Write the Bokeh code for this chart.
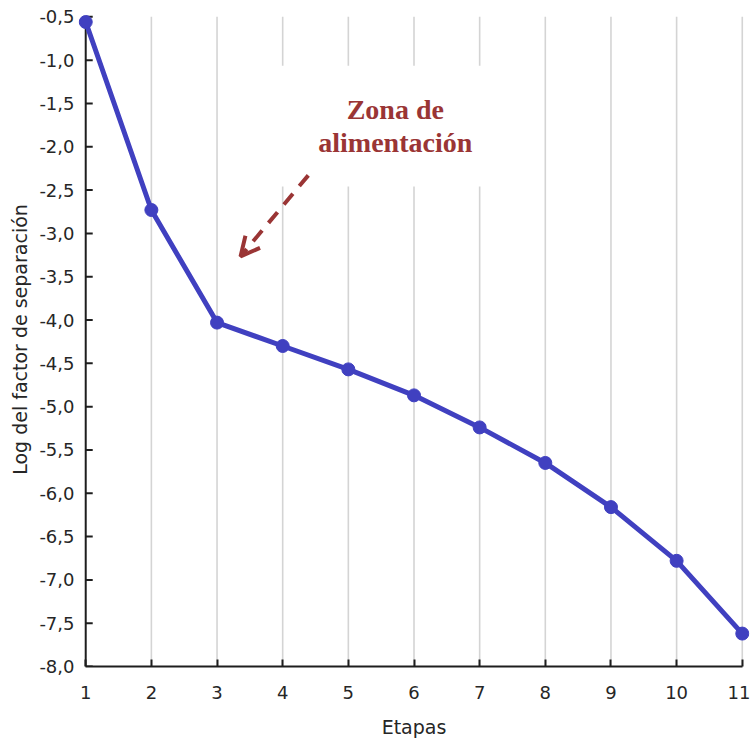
from bokeh.plotting import figure
from bokeh.models import (Range1d, FixedTicker, Label, Arrow, OpenHead, BoxAnnotation)
from bokeh.embed import file_html
from bokeh.resources import INLINE

# ---- data ----
etapas = [1, 2, 3, 4, 5, 6, 7, 8, 9, 10, 11]
log_factor = [-0.56, -2.73, -4.03, -4.30, -4.57, -4.87, -5.24, -5.65, -6.16, -6.78, -7.62]

x_ticks = [1, 2, 3, 4, 5, 6, 7, 8, 9, 10, 11]
y_ticks = [-8.0, -7.5, -7.0, -6.5, -6.0, -5.5, -5.0, -4.5, -4.0, -3.5, -3.0,
           -2.5, -2.0, -1.5, -1.0, -0.5]
y_labels = ["-8,0", "-7,5", "-7,0", "-6,5", "-6,0", "-5,5", "-5,0", "-4,5", "-4,0",
            "-3,5", "-3,0", "-2,5", "-2,0", "-1,5", "-1,0", "-0,5"]

x_title = "Etapas"
y_title = "Log del factor de separación"
annot_lines = ["Zona de", "alimentación"]

LINE_COLOR = "#4040c0"
ANNOT_COLOR = "#9a3535"
AXIS_COLOR = "#1e1e1e"
TEXT_COLOR = "#262626"
FONT = "DejaVu Sans"

p = figure(width=750, height=740,
           x_range=Range1d(0.89, 11.11), y_range=Range1d(y_ticks[0], -0.45),
           output_backend="svg", toolbar_location=None,
           min_border_left=78, min_border_right=1, min_border_top=12,
           min_border_bottom=73)
p.outline_line_color = None
p.xgrid.visible = False
p.ygrid.visible = False
p.background_fill_color = "white"
p.border_fill_color = "white"

# vertical grid lines (from -8 to -0.5)
n = len(x_ticks) - 1
p.segment(x0=x_ticks[1:], y0=[y_ticks[0]] * n, x1=x_ticks[1:], y1=[y_ticks[-1]] * n,
          line_color="#d4d4d4", line_width=1.6, level="underlay")

# white box behind annotation text (breaks grid lines)
p.add_layout(BoxAnnotation(left=3.52, right=7.54, top=-1.065, bottom=-2.46,
                           fill_color="white", fill_alpha=1.0, line_color=None))

# y axis line and inward ticks drawn at x = 1
m = len(y_ticks)
p.segment(x0=[x_ticks[0]], y0=[y_ticks[0]], x1=[x_ticks[0]], y1=[y_ticks[-1]],
          line_color=AXIS_COLOR, line_width=2)
p.ray(x=[x_ticks[0]] * m, y=y_ticks, length=7, length_units="screen", angle=0,
      line_color=AXIS_COLOR, line_width=2)

# data
p.line(etapas, log_factor, line_color=LINE_COLOR, line_width=5)
p.scatter(etapas, log_factor, size=13, fill_color=LINE_COLOR, line_color=LINE_COLOR)

# axes
xa = p.xaxis[0]
xa.ticker = FixedTicker(ticks=x_ticks)
xa.bounds = (x_ticks[0], x_ticks[-1])
xa.major_tick_in = 7
xa.major_tick_out = 0
xa.minor_tick_line_color = None
xa.axis_line_width = 2
xa.axis_line_color = AXIS_COLOR
xa.major_tick_line_width = 2
xa.major_tick_line_color = AXIS_COLOR
xa.major_label_text_font = FONT
xa.major_label_text_font_size = "18px"
xa.major_label_text_color = TEXT_COLOR
xa.major_label_standoff = 19
xa.axis_label = x_title
xa.axis_label_text_font = FONT
xa.axis_label_text_font_size = "19px"
xa.axis_label_text_font_style = "normal"
xa.axis_label_text_color = TEXT_COLOR
xa.axis_label_standoff = 14

ya = p.yaxis[0]
ya.ticker = FixedTicker(ticks=y_ticks)
ya.major_label_overrides = {t: s for t, s in zip(y_ticks, y_labels)}
ya.bounds = (y_ticks[0], y_ticks[-1])
ya.axis_line_color = None
ya.major_tick_line_color = None
ya.major_tick_in = 0
ya.major_tick_out = 0
ya.minor_tick_line_color = None
ya.major_label_text_font = FONT
ya.major_label_text_font_size = "18px"
ya.major_label_text_color = TEXT_COLOR
ya.major_label_standoff = 4
ya.axis_label = y_title
ya.axis_label_text_font = FONT
ya.axis_label_text_font_size = "19px"
ya.axis_label_text_font_style = "normal"
ya.axis_label_text_color = TEXT_COLOR
ya.axis_label_standoff = 5

# annotation
p.add_layout(Label(x=5.715, y=-1.567, text=annot_lines[0], text_align="center",
                   text_baseline="alphabetic", text_font="Liberation Serif",
                   text_font_style="bold", text_font_size="28px", text_color=ANNOT_COLOR))
p.add_layout(Label(x=5.715, y=-1.955, text=annot_lines[1], text_align="center",
                   text_baseline="alphabetic", text_font="Liberation Serif",
                   text_font_style="bold", text_font_size="28px", text_color=ANNOT_COLOR))
p.add_layout(Arrow(x_start=4.39, y_start=-2.33, x_end=3.358, y_end=-3.265,
                   line_color=ANNOT_COLOR, line_width=4, line_dash="14 10",
                   end=OpenHead(size=19, line_color=ANNOT_COLOR, line_width=4)))

open("out.html", "w").write(file_html(p, INLINE))
